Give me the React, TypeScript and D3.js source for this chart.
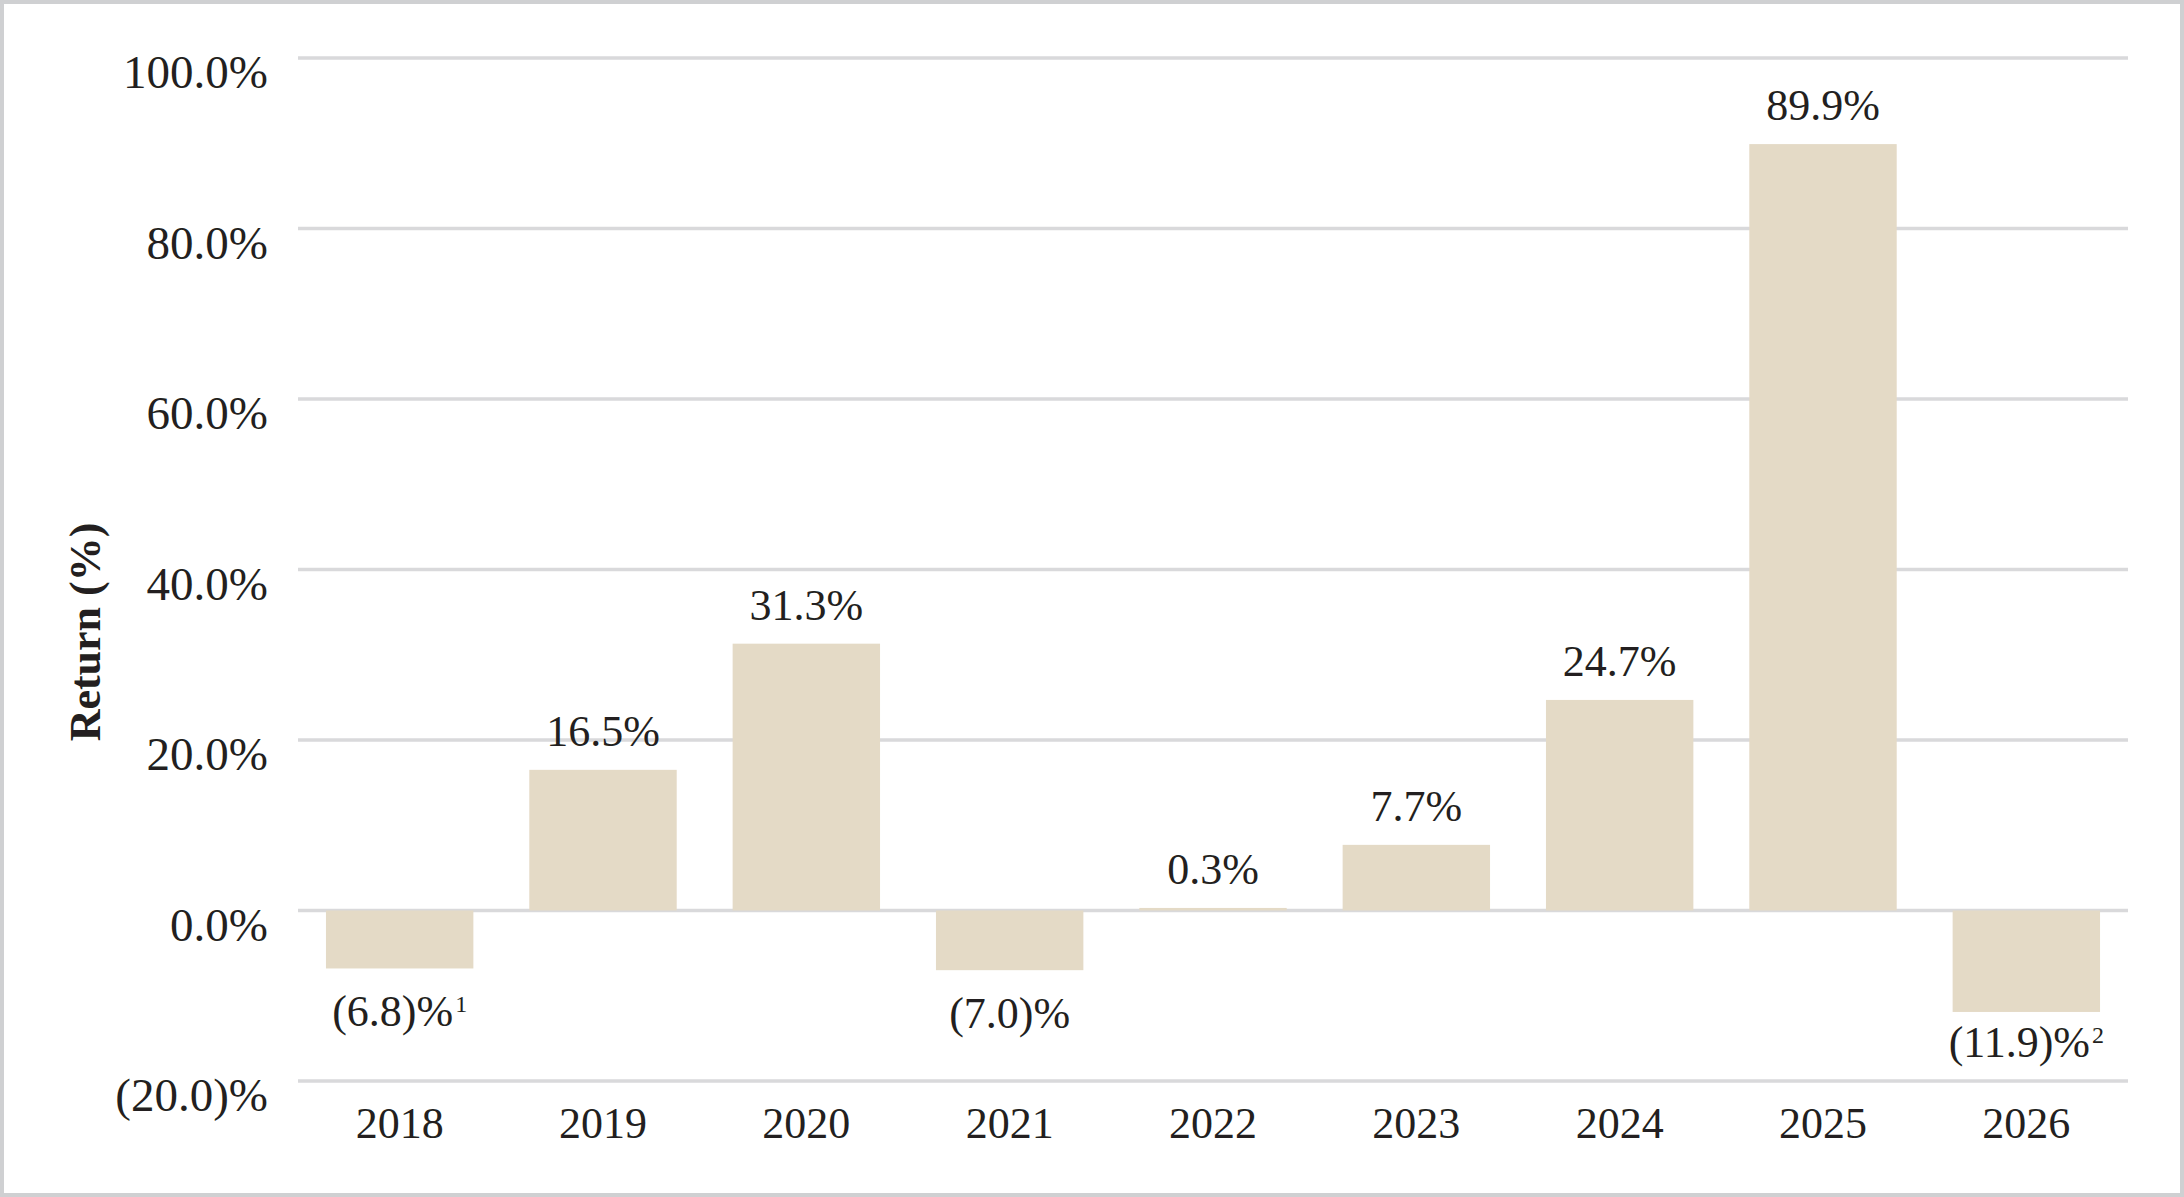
import { useEffect, useRef } from 'react';
import * as d3 from 'd3';

const years = ['2018', '2019', '2020', '2021', '2022', '2023', '2024', '2025', '2026'];
const returns = [-6.8, 16.5, 31.3, -7.0, 0.3, 7.7, 24.7, 89.9, -11.9];
const footnotes = ['1', '', '', '', '', '', '', '', '2'];
const yTicks = [-20, 0, 20, 40, 60, 80, 100];

const fmt = (v: number) => (v < 0 ? `(${Math.abs(v).toFixed(1)})%` : `${v.toFixed(1)}%`);

const ReturnChart = () => {
  const svgRef = useRef<SVGSVGElement>(null);

  useEffect(() => {
    if (!svgRef.current) return;
    document.body.style.margin = '0';

    d3.select(svgRef.current).selectAll('*').remove();

    const width = 2184;
    const height = 1197;
    const font = '"Liberation Serif", "Times New Roman", serif';
    const ink = '#231f20';

    const svg = d3.select(svgRef.current)
      .attr('width', width)
      .attr('height', height)
      .style('display', 'block')
      .style('background', '#fff');

    // Frame
    svg.append('rect')
      .attr('x', 2)
      .attr('y', 2)
      .attr('width', width - 4)
      .attr('height', height - 4)
      .attr('fill', 'none')
      .attr('stroke', '#cfd0d2')
      .attr('stroke-width', 4);

    const x = d3.scaleBand()
      .domain(years)
      .range([298, 2128])
      .paddingInner(0.275)
      .paddingOuter(0.1375);

    const y = d3.scaleLinear()
      .domain([-20, 100])
      .range([1081, 58]);

    // Gridlines
    svg.append('g')
      .selectAll('line')
      .data(yTicks)
      .enter()
      .append('line')
      .attr('x1', 298)
      .attr('x2', 2128)
      .attr('y1', d => y(d))
      .attr('y2', d => y(d))
      .attr('stroke', '#d9d9db')
      .attr('stroke-width', 3.5);

    // Y tick labels (hang just below their gridline)
    svg.append('g')
      .selectAll('text')
      .data(yTicks)
      .enter()
      .append('text')
      .attr('x', 268)
      .attr('y', d => y(d) + 30)
      .attr('text-anchor', 'end')
      .attr('font-family', font)
      .attr('font-size', 47)
      .attr('fill', ink)
      .text(d => fmt(d));

    // Y axis title
    svg.append('text')
      .attr('transform', 'translate(100,632) rotate(-90)')
      .attr('text-anchor', 'middle')
      .attr('font-family', font)
      .attr('font-weight', 'bold')
      .attr('font-size', 44)
      .attr('fill', ink)
      .text('Return (%)');

    const data = years.map((year, i) => ({ year, value: returns[i], note: footnotes[i] }));

    // Bars
    svg.append('g')
      .selectAll('rect')
      .data(data)
      .enter()
      .append('rect')
      .attr('x', d => x(d.year) || 0)
      .attr('y', d => Math.min(y(d.value), y(0)))
      .attr('width', x.bandwidth())
      .attr('height', d => Math.abs(y(d.value) - y(0)))
      .attr('fill', '#e4dac6');

    // Value labels
    const labels = svg.append('g')
      .selectAll('text')
      .data(data)
      .enter()
      .append('text')
      .attr('x', d => (x(d.year) || 0) + x.bandwidth() / 2)
      .attr('y', d => (d.value >= 0 ? y(d.value) - 24 : Math.min(y(d.value) + 58, y(-20) - 24)))
      .attr('text-anchor', 'middle')
      .attr('font-family', font)
      .attr('font-size', 44)
      .attr('fill', ink);

    labels.append('tspan').text(d => fmt(d.value));
    labels.filter(d => d.note !== '')
      .append('tspan')
      .attr('font-size', 24)
      .attr('dy', -14)
      .attr('dx', 2)
      .text(d => d.note);

    // X axis labels
    svg.append('g')
      .selectAll('text')
      .data(years)
      .enter()
      .append('text')
      .attr('x', d => (x(d) || 0) + x.bandwidth() / 2)
      .attr('y', 1138)
      .attr('text-anchor', 'middle')
      .attr('font-family', font)
      .attr('font-size', 44)
      .attr('fill', ink)
      .text(d => d);
  }, []);

  return <svg ref={svgRef} />;
};

export default function App() {
  return <ReturnChart />;
}
